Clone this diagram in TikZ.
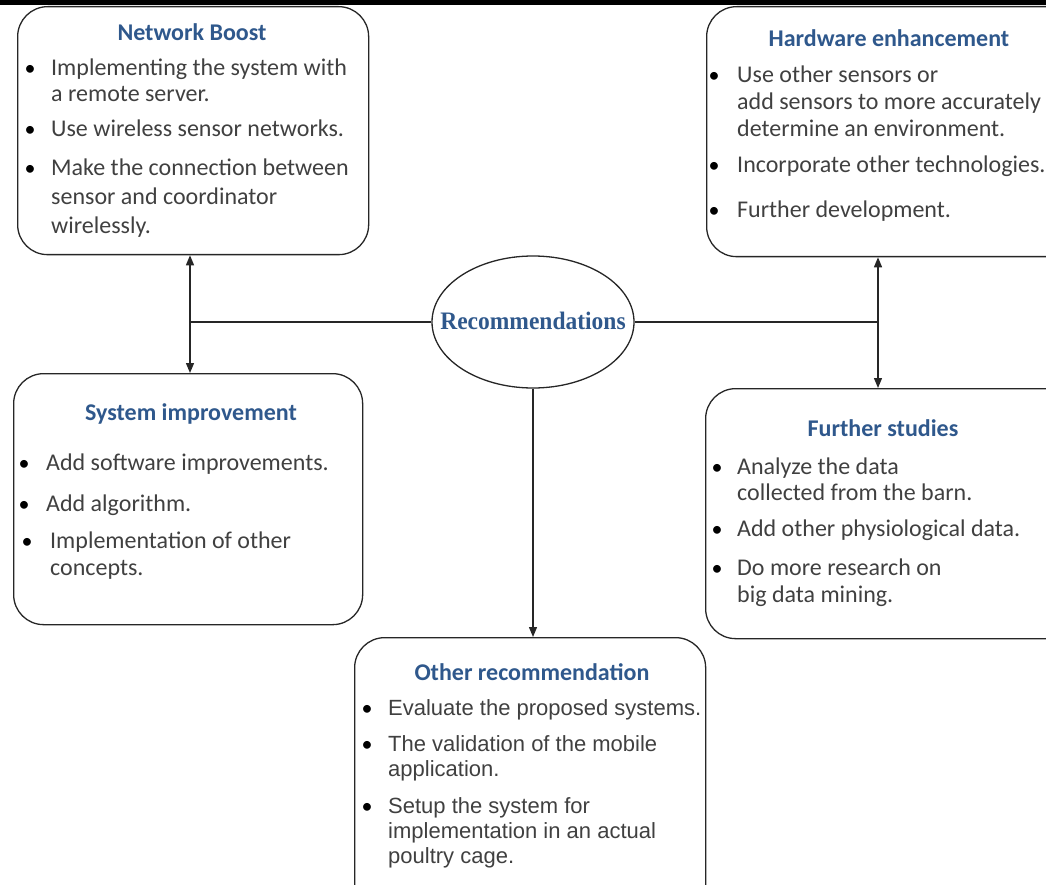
\documentclass[tikz,border=0pt]{standalone}
\usepackage{fontspec}
\setmainfont{Carlito}
\newfontfamily\arialf{Liberation Sans}
\newfontfamily\timesf{Liberation Serif}
\usetikzlibrary{arrows.meta,shapes.geometric}
\definecolor{headblue}{RGB}{47,88,140}
\definecolor{bodygray}{RGB}{64,64,64}
\begin{document}
\begin{tikzpicture}[x=1pt,y=-1pt,
  card/.style={draw=black!85, line width=1.3pt, rounded corners=30pt},
  head/.style={font=\fontsize{24}{28}\selectfont\bfseries, text=headblue, inner sep=0, anchor=base},
  btxt/.style={font=\fontsize{24}{28}\selectfont, text=bodygray, inner sep=0, anchor=base west},
  atxt/.style={font=\arialf\fontsize{22}{26}\selectfont, text=bodygray, inner sep=0, anchor=base west},
  bul/.style={font=\fontsize{22}{27}\selectfont, text=black, inner sep=0, anchor=base},
  conn/.style={line width=1.3pt, draw=black!85},
  arr/.style={conn, -{Triangle[length=10pt,width=8pt]}}
]
\useasboundingbox (0,0) rectangle (1046,885);
\clip (0,0) rectangle (1046,885);
\fill[black] (0,0) rectangle (1046,5);

% boxes
\node[card, minimum width=351pt, minimum height=248pt, anchor=north west] (nb) at (17,6) {};
\node[card, minimum width=370pt, minimum height=250pt, anchor=north west] (hw) at (706,6) {};
\node[card, minimum width=349pt, minimum height=251pt, anchor=north west] (si) at (13,373) {};
\node[card, minimum width=370pt, minimum height=250pt, anchor=north west] (fs) at (705,388) {};
\node[card, minimum width=351pt, minimum height=280pt, anchor=north west] (or) at (354,637) {};

% centre
\node[draw=black!85, line width=1.3pt, ellipse, minimum width=202pt, minimum height=132pt, inner sep=0] (rec) at (533,322) {};
\node[font=\timesf\bfseries\fontsize{23.5}{26}\selectfont, text=headblue, inner sep=0] (rect) at (533,321) {\scalebox{1}[1.07]{Recommendations}};

% Network Boost
\node[head] (nbh) at (192,41) {Network Boost};
\node[bul] (nbb1) at (30,76) {•};
\node[btxt] (nb1) at (51,76) {Implementing the system with};
\node[btxt] (nb2) at (51,102) {a remote server.};
\node[bul] (nbb2) at (30,137) {•};
\node[btxt] (nb3) at (51,137) {Use wireless sensor networks.};
\node[bul] (nbb3) at (30,176) {•};
\node[btxt] (nb4) at (51,176) {Make the connection between};
\node[btxt] (nb5) at (51,205) {sensor and coordinator};
\node[btxt] (nb6) at (51,234) {wirelessly.};

% Hardware enhancement
\node[head] (hwh) at (889,47) {Hardware enhancement};
\node[bul] (hwb1) at (714,83) {•};
\node[btxt] (hw1) at (737,83) {Use other sensors or};
\node[btxt] (hw2) at (737,110) {add sensors to more accurately};
\node[btxt] (hw3) at (737,137) {determine an environment.};
\node[bul] (hwb2) at (714,173) {•};
\node[btxt] (hw4) at (737,173) {Incorporate other technologies.};
\node[bul] (hwb3) at (714,218) {•};
\node[btxt] (hw5) at (737,218) {Further development.};

% System improvement
\node[head] (sih) at (191,420) {System improvement};
\node[bul] (sib1) at (24,470) {•};
\node[btxt] (si1) at (46,470) {Add software improvements.};
\node[bul] (sib2) at (24,511) {•};
\node[btxt] (si2) at (46,511) {Add algorithm.};
\node[bul] (sib3) at (27,548) {•};
\node[btxt] (si3) at (50,548) {Implementation of other};
\node[btxt] (si4) at (50,575) {concepts.};

% Further studies
\node[head] (fsh) at (883,436) {Further studies};
\node[bul] (fsb1) at (717,474) {•};
\node[btxt] (fs1) at (737,474) {Analyze the data};
\node[btxt] (fs2) at (737,500) {collected from the barn.};
\node[bul] (fsb2) at (717,536) {•};
\node[btxt] (fs3) at (737,536) {Add other physiological data.};
\node[bul] (fsb3) at (717,575) {•};
\node[btxt] (fs4) at (737,575) {Do more research on};
\node[btxt] (fs5) at (737,602) {big data mining.};

% Other recommendation
\node[head] (orh) at (532,680) {Other recommendation};
\node[bul] (orb1) at (367,715) {•};
\node[atxt] (or1) at (388,715) {Evaluate the proposed systems.};
\node[bul] (orb2) at (367,751) {•};
\node[atxt] (or2) at (388,751) {The validation of the mobile};
\node[atxt] (or3) at (388,776) {application.};
\node[bul] (orb3) at (367,813) {•};
\node[atxt] (or4) at (388,813) {Setup the system for};
\node[atxt] (or5) at (388,838) {implementation in an actual};
\node[atxt] (or6) at (388,863) {poultry cage.};

% connectors
\coordinate (jl) at (190,322);
\coordinate (jr) at (878,322);
\draw[conn] (rec.west) -- (jl);
\draw[conn] (rec.east) -- (jr);
\draw[arr] (jl) -- (jl |- nb.south);
\draw[arr] (jl) -- (jl |- si.north);
\draw[arr] (jr) -- (jr |- hw.south);
\draw[arr] (jr) -- (jr |- fs.north);
\draw[arr] (rec.south) -- (rec.south |- or.north);
\end{tikzpicture}
\end{document}
